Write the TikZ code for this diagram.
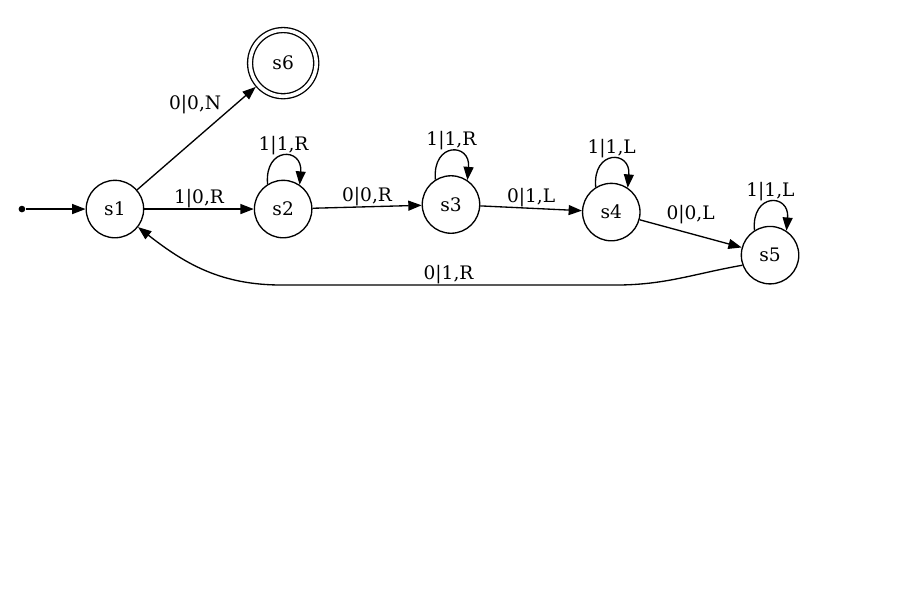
\documentclass[tikz,border=0pt]{standalone}
\usepackage{fontspec}
\setmainfont{DejaVu Serif}
\usetikzlibrary{arrows.meta}

\begin{document}
\begin{tikzpicture}[
		>={Triangle[length=10pt,width=7.5pt]},
		line width=1pt,
		font=\fontsize{14}{17}\selectfont,
		state/.style={circle,draw,minimum size=1.52cm,inner sep=0pt},
		final/.style={state,double,double distance=2.75pt,minimum size=1.75cm,outer sep=2.4pt},
		trans/.style={->},
		lbl/.style={inner sep=0.5pt}
	]

		\useasboundingbox (0,0) rectangle (23.94,16.01);

		%start point
		\node[circle,fill,inner sep=0pt,minimum size=5pt] (init) at (0.58,10.48) {};

		%states
		\node[state] (s1) at (3.04,10.48) {s1};
		\node[state] (s2) at (7.49,10.48) {s2};
		\node[state] (s3) at (11.93,10.60) {s3};
		\node[state] (s4) at (16.17,10.40) {s4};
		\node[state] (s5) at (20.37,9.26) {s5};
		\node[final] (s6) at (7.49,14.34) {s6};

		%back edge corners
		\coordinate (b1) at (16.27,8.47);
		\coordinate (b2) at (7.46,8.47);

		%transitions
		\draw[trans] (init) -- (s1);
		\draw[trans] (s1) -- (s6) node[lbl,pos=0.72,anchor=south east] {0|0,N};
		\draw[trans] (s1) -- (s2) node[lbl,midway,above] {1|0,R};
		\draw[trans] (s2) -- (s3) node[lbl,midway,above] {0|0,R};
		\draw[trans] (s3) -- (s4) node[lbl,midway,above] {0|1,L};
		\draw[trans] (s4) -- (s5) node[lbl,midway,above=6pt] {0|0,L};
		\draw[trans] (s5.200) to[out=190,in=0] (b1) -- (b2) node[lbl,midway,above] {0|1,R}
			to[out=180,in=-38] (s1.-38);

		%loops
		\foreach \s/\d in {s2/R,s3/R,s4/L,s5/L} {
			\draw[trans] (\s.122) .. controls +(95:1.0) and +(85:1.0) .. (\s.56)
				node[lbl,midway,above] {1|1,\d};
		}
	\end{tikzpicture}
\end{document}
